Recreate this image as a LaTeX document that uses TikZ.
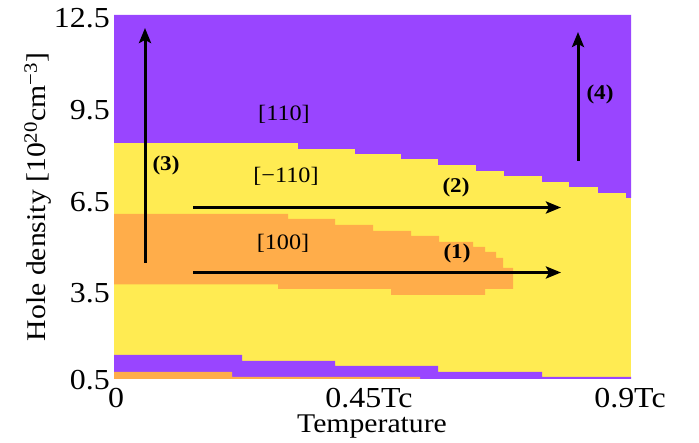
\documentclass[tikz,border=0pt]{standalone}
\usepackage{fontspec}
\setmainfont[FakeStretch=1.1]{Liberation Serif}
\usetikzlibrary{arrows.meta}
\definecolor{phasePurple}{RGB}{153,69,255}
\definecolor{phaseYellow}{RGB}{255,235,82}
\definecolor{phaseOrange}{RGB}{255,173,74}
\tikzset{x=1pt, y=-1pt,
    axis label/.style={font=\fontsize{27}{30}\selectfont, inner sep=0pt},
    tick label/.style={font=\fontsize{29}{32}\selectfont, inner sep=0pt},
    phase label/.style={font=\fontsize{22}{26}\selectfont, inner sep=0pt},
    path label/.style={font=\fontsize{21}{24}\selectfont\bfseries, inner sep=0pt},
    path arrow/.style={line width=3pt, -{Stealth[length=15pt,width=12pt,inset=3pt]}},
    }

\begin{document}
\begin{tikzpicture}
	\useasboundingbox (0,0) rectangle (699,443);
	% phase map
	\fill[phaseYellow] (114,15) rectangle (631,379);
	\fill[phasePurple] (114,15) -- (631,15) -- (631,198) -- (626,198) -- (626,193)
		-- (598,193) -- (598,187) -- (569,187) -- (569,182) -- (542,182) -- (542,176)
		-- (504,176) -- (504,171) -- (476,171) -- (476,165) -- (438,165) -- (438,159)
		-- (401,159) -- (401,154) -- (355,154) -- (355,149) -- (298,149) -- (298,143)
		-- (114,143) -- cycle;
	\fill[phaseOrange] (114,214) -- (288,214) -- (288,219) -- (335,219) -- (335,225)
		-- (373,225) -- (373,231) -- (411,231) -- (411,236) -- (439,236) -- (439,242)
		-- (473,242) -- (473,247) -- (485,247) -- (485,252) -- (496,252) -- (496,258)
		-- (503,258) -- (503,268) -- (513,268) -- (513,289) -- (485,289) -- (485,295)
		-- (391,295) -- (391,289) -- (278,289) -- (278,284.5) -- (114,284.5) -- cycle;
	\fill[phasePurple] (114,355) -- (242,355) -- (242,361) -- (335,361) -- (335,366)
		-- (438,366) -- (438,372) -- (542,372) -- (542,377) -- (631,377) -- (631,379)
		-- (114,379) -- cycle;
	\fill[phaseOrange] (114,372) -- (232,372) -- (232,377) -- (420,377) -- (420,379)
		-- (114,379) -- cycle;

	\node[phase label] (p110) at (284,114) {[110]};
	\node[phase label] (pm110) at (286,176) {[−110]};
	\node[phase label] (p100) at (283,243) {[100]};

	% paths through the map
	\coordinate (oneStart) at (193,272.5);
	\coordinate (oneEnd) at (561,272.5);
	\coordinate (twoStart) at (193,207.5);
	\coordinate (twoEnd) at (561,207.5);
	\coordinate (threeStart) at (145,263);
	\coordinate (threeEnd) at (145,28);
	\coordinate (fourStart) at (578,161);
	\coordinate (fourEnd) at (578,32);
	\draw[path arrow] (oneStart) -- (oneEnd);
	\draw[path arrow] (twoStart) -- (twoEnd);
	\draw[path arrow] (threeStart) -- (threeEnd);
	\draw[path arrow] (fourStart) -- (fourEnd);
	\node[path label] (one) at (457,253) {(1)};
	\node[path label] (two) at (456,187) {(2)};
	\node[path label] (three) at (166,165) {(3)};
	\node[path label] (four) at (600,94) {(4)};

	% axes
	\node[tick label, anchor=east] (y125) at (110,18) {12.5};
	\node[tick label, anchor=east] (y95) at (110,110) {9.5};
	\node[tick label, anchor=east] (y65) at (110,202) {6.5};
	\node[tick label, anchor=east] (y35) at (110,293) {3.5};
	\node[tick label, anchor=east] (y05) at (110,380) {0.5};
	\node[tick label] (x0) at (116,398) {0};
	\node[tick label] (x045) at (369,398) {0.45Tc};
	\node[tick label] (x09) at (630,398) {0.9Tc};
	\node[axis label] (xlab) at (372,427) {Temperature};
	\node[axis label, rotate=90] (ylab) at (38,197)
		{Hole density [10\textsuperscript{20}cm\textsuperscript{−3}]};
\end{tikzpicture}
\end{document}
